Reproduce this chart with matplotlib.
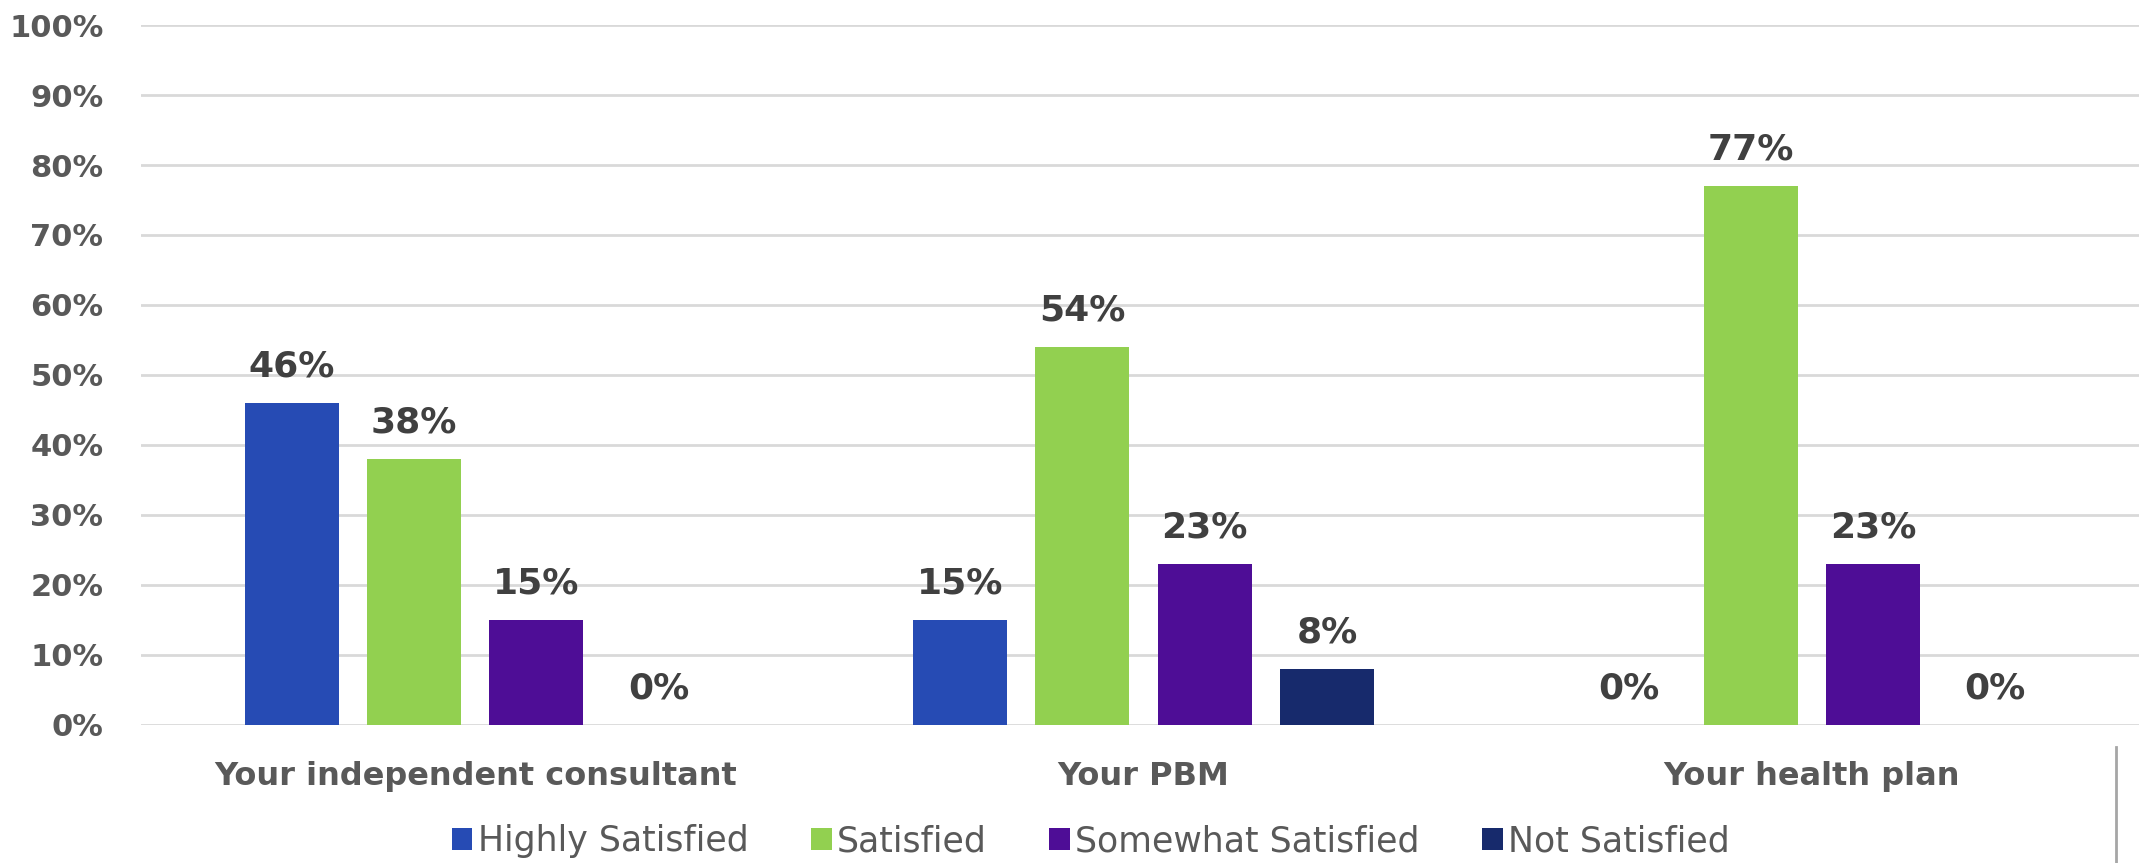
import matplotlib.pyplot as plt
from matplotlib.lines import Line2D
import numpy as np

# Данные диаграммы
categories = ["Your independent consultant", "Your PBM", "Your health plan"]
series_names = ["Highly Satisfied", "Satisfied", "Somewhat Satisfied", "Not Satisfied"]
highly_satisfied = [46, 15, 0]
satisfied = [38, 54, 77]
somewhat_satisfied = [15, 23, 23]
not_satisfied = [0, 8, 0]
y_ticks = [0, 10, 20, 30, 40, 50, 60, 70, 80, 90, 100]

colors = ["#264BB4", "#92D050", "#4E0D96", "#172A6C"]
series = [highly_satisfied, satisfied, somewhat_satisfied, not_satisfied]

fig = plt.figure(figsize=(21.39, 8.63), dpi=100)
ax = fig.add_axes([0.0659, 0.160, 0.9374, 0.811])

x = np.arange(len(categories))
width = 0.141
step = 0.183
offsets = [-1.5 * step, -0.5 * step, 0.5 * step, 1.5 * step]

for vals, name, col, off in zip(series, series_names, colors, offsets):
    bars = ax.bar(x + off, vals, width, color=col, label=name, zorder=3)
    for b, v in zip(bars, vals):
        ax.annotate(f"{v}%", (b.get_x() + b.get_width() / 2, v),
                    xytext=(0, 26), textcoords="offset points",
                    ha="center", va="center", fontsize=26,
                    fontweight="bold", color="#404040")

ax.set_xlim(-0.5, 2.5)
ax.set_ylim(0, 100)
ax.set_yticks(y_ticks)
ax.set_yticklabels([f"{t}%" for t in y_ticks])
ax.set_xticks(x)
ax.set_xticklabels(categories)
ax.tick_params(axis="y", length=0, pad=27, labelsize=22, labelcolor="#595959")
ax.tick_params(axis="x", length=0, pad=26, labelsize=23, labelcolor="#595959")
for lbl in ax.get_yticklabels() + ax.get_xticklabels():
    lbl.set_fontweight("bold")

ax.grid(axis="y", color="#D9D9D9", linewidth=2, zorder=0)
for s in ax.spines.values():
    s.set_visible(False)

leg = fig.legend(loc="center", bbox_to_anchor=(0.510, 0.025), ncol=4,
                 frameon=False, fontsize=25, handlelength=0.6, handleheight=0.6,
                 handletextpad=0.15, columnspacing=1.8)
for t in leg.get_texts():
    t.set_color("#595959")

# кусочек логотипа в правом нижнем углу
fig.add_artist(Line2D([0.9893, 0.9893], [0.0, 0.134], color="#A6A6A6", linewidth=2))

fig.savefig("out.png", dpi=100)
